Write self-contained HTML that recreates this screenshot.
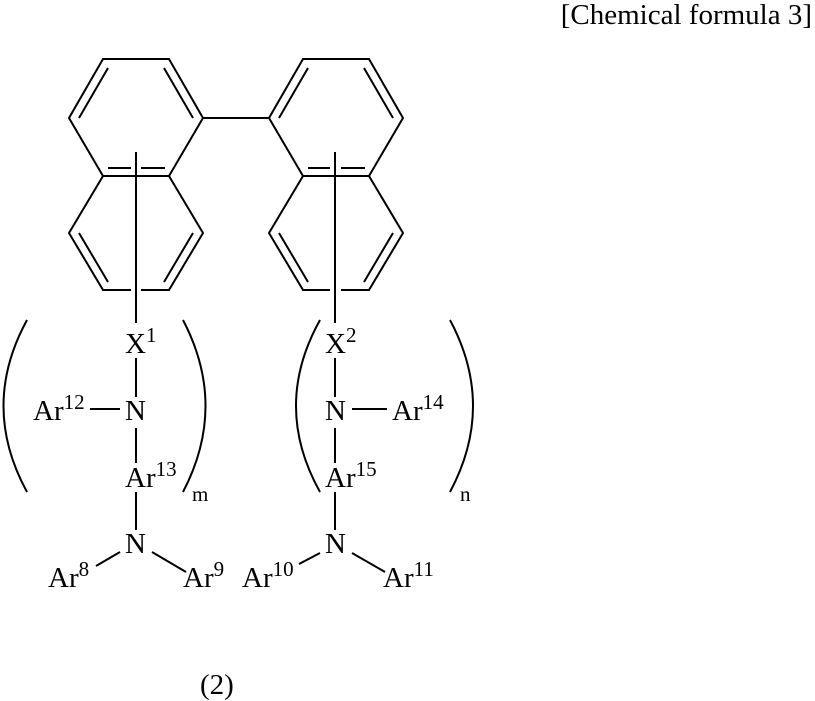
<!DOCTYPE html>
<html><head><style>body{margin:0;background:#fff}svg{display:block}</style></head><body>
<svg width="815" height="701" viewBox="0 0 815 701" xmlns="http://www.w3.org/2000/svg" font-family="Liberation Serif, serif" font-size="29" fill="#000">
<g stroke="#000" stroke-width="2" fill="none">
<polyline points="103,176 69,118 103,59 169,59 203,118 169,176"/>
<line x1="103" y1="176" x2="169" y2="176"/>
<polyline points="103,176 69,233 103,290 131,290"/>
<polyline points="141,290 169,290 203,233 169,176"/>
<line x1="108" y1="68" x2="79" y2="118"/>
<line x1="164" y1="68" x2="193" y2="118"/>
<line x1="108" y1="168" x2="131" y2="168"/>
<line x1="141" y1="168" x2="165" y2="168"/>
<line x1="79" y1="233" x2="108" y2="282"/>
<line x1="193" y1="233" x2="164" y2="282"/>
<line x1="136" y1="152" x2="136" y2="323"/>
<line x1="203" y1="118" x2="269" y2="118"/>
<polyline points="303,176 269,118 303,59 369,59 403,118 369,176"/>
<line x1="303" y1="176" x2="369" y2="176"/>
<polyline points="303,176 269,233 303,290 330,290"/>
<polyline points="341,290 369,290 403,233 369,176"/>
<line x1="308" y1="68" x2="279" y2="118"/>
<line x1="364" y1="68" x2="393" y2="118"/>
<line x1="308" y1="168" x2="330" y2="168"/>
<line x1="341" y1="168" x2="365" y2="168"/>
<line x1="279" y1="233" x2="308" y2="282"/>
<line x1="393" y1="233" x2="364" y2="282"/>
<line x1="335" y1="152" x2="335" y2="323"/>
<line x1="136" y1="358" x2="136" y2="397"/>
<line x1="90" y1="409" x2="120" y2="409"/>
<line x1="136" y1="428" x2="136" y2="463"/>
<line x1="136" y1="492" x2="136" y2="530"/>
<line x1="96" y1="566" x2="120" y2="552"/>
<line x1="152" y1="552" x2="186" y2="572"/>
<line x1="335" y1="358" x2="335" y2="397"/>
<line x1="352" y1="409" x2="387" y2="409"/>
<line x1="335" y1="428" x2="335" y2="463"/>
<line x1="335" y1="492" x2="335" y2="530"/>
<line x1="299" y1="564" x2="320" y2="553"/>
<line x1="352" y1="553" x2="385" y2="572"/>
<path d="M27,320 Q-20,406 27,492"/>
<path d="M183,320 Q228,406 183,492"/>
<path d="M320,320 Q272,406 320,492"/>
<path d="M450,320 Q496,406 450,492"/>
</g>
<text x="812" y="24" text-anchor="end">[Chemical formula 3]</text>
<text x="125" y="353">X<tspan font-size="21" dy="-11">1</tspan></text>
<text x="125" y="420">N</text>
<text x="33" y="420">Ar<tspan font-size="21" dy="-11">12</tspan></text>
<text x="125" y="487">Ar<tspan font-size="21" dy="-11">13</tspan></text>
<text x="192" y="501" font-size="21">m</text>
<text x="125" y="553">N</text>
<text x="48" y="587">Ar<tspan font-size="21" dy="-11">8</tspan></text>
<text x="183" y="587">Ar<tspan font-size="21" dy="-11">9</tspan></text>
<text x="325" y="353">X<tspan font-size="21" dy="-11">2</tspan></text>
<text x="325" y="420">N</text>
<text x="392" y="420">Ar<tspan font-size="21" dy="-11">14</tspan></text>
<text x="325" y="487">Ar<tspan font-size="21" dy="-11">15</tspan></text>
<text x="460" y="501" font-size="21">n</text>
<text x="325" y="553">N</text>
<text x="242" y="587">Ar<tspan font-size="21" dy="-11">10</tspan></text>
<text x="383" y="587">Ar<tspan font-size="21" dy="-11">11</tspan></text>
<text x="200" y="694">(2)</text>
</svg>
</body></html>
